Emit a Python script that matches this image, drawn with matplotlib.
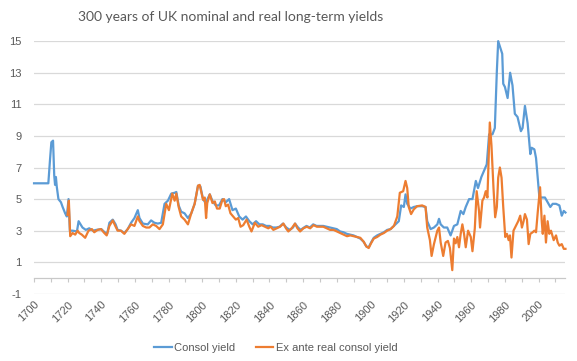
import matplotlib
matplotlib.use("Agg")
import matplotlib.pyplot as plt
from matplotlib.ticker import MultipleLocator, FixedLocator

# ---- data ----
consol_years = [1700, 1708.5, 1709.5, 1710.3, 1711.3, 1712, 1712.5, 1713, 1713.5, 1714.5,
                1716, 1717, 1718.5, 1719.5, 1720.5, 1721.3, 1723, 1725.5, 1726.5, 1728.8,
                1730.8, 1732.8, 1735, 1737, 1740, 1742, 1743.5, 1744.8, 1746.8, 1748.5,
                1749.7, 1751.7, 1753.7, 1755.7, 1757.7, 1759.7, 1761.7, 1762.7, 1764.7, 1767.6,
                1769.6, 1771.6, 1773.6, 1775.6, 1777.6, 1779.6, 1781.6, 1783.6, 1784.6, 1786,
                1787.5, 1789.5, 1791.5, 1793.5, 1795.5, 1797.5, 1798.9, 1800.5, 1802, 1804.5,
                1806, 1808, 1810, 1812, 1814, 1816, 1818, 1820, 1822, 1824,
                1826, 1828, 1830, 1832, 1834, 1836, 1838, 1840, 1842, 1844,
                1846, 1848, 1850, 1852, 1854, 1855.2, 1857, 1858.5, 1860.5, 1862,
                1864, 1866, 1868, 1872, 1874, 1876, 1878, 1880, 1882, 1884,
                1886, 1888, 1890, 1892, 1894, 1896, 1897.6, 1899, 1900.4, 1902,
                1904, 1906, 1908, 1910, 1912, 1914.9, 1916.9, 1918.3, 1919.9, 1920.9,
                1921.9, 1923.8, 1925.8, 1927.8, 1930.8, 1932.8, 1933.8, 1935.8, 1937.8, 1939.8,
                1940.8, 1941.8, 1943.7, 1945.7, 1947.7, 1949.7, 1951.7, 1953.7, 1955.3, 1956.7,
                1958.7, 1960.7, 1962.7, 1964, 1966, 1968, 1969.2, 1970.6, 1972.6, 1974,
                1975.2, 1976, 1977.2, 1978.4, 1979, 1980, 1981.6, 1983.1, 1984.5, 1985.9,
                1987.5, 1989.5, 1990.5, 1991.9, 1993.5, 1995.1, 1995.9, 1997.5, 1998.5, 2000.5,
                2003.8, 2005.4, 2007, 2008.4, 2010.4, 2012.4, 2013.8, 2015, 2016]
consol_yield = [6.0, 6.0, 7.5, 8.6, 8.7, 6.5, 5.9, 6.4, 5.8, 5.0,
                4.8, 4.5, 4.1, 3.9, 5.0, 3.0, 3.0, 2.95, 3.6, 3.2,
                3.05, 3.15, 3.0, 3.05, 3.1, 2.9, 2.8, 3.5, 3.7, 3.4,
                3.05, 3.0, 2.85, 3.1, 3.5, 3.8, 4.3, 3.8, 3.45, 3.4,
                3.65, 3.5, 3.45, 3.5, 4.7, 4.9, 5.35, 5.4, 5.45, 4.6,
                4.2, 4.1, 3.8, 4.1, 4.7, 5.85, 5.8, 5.0, 4.75, 5.3,
                4.9, 4.6, 4.6, 5.0, 4.8, 5.0, 4.3, 4.4, 3.9, 3.7,
                3.9, 3.6, 3.4, 3.6, 3.4, 3.4, 3.3, 3.3, 3.2, 3.2,
                3.25, 3.45, 3.2, 3.05, 3.2, 3.45, 3.2, 3.05, 3.2, 3.3,
                3.2, 3.4, 3.3, 3.3, 3.25, 3.2, 3.15, 3.1, 2.95, 2.9,
                2.8, 2.75, 2.7, 2.6, 2.5, 2.3, 2.0, 1.95, 2.25, 2.55,
                2.7, 2.8, 2.9, 3.05, 3.1, 3.4, 3.6, 4.6, 4.5, 5.3,
                4.7, 4.4, 4.5, 4.55, 4.55, 4.5, 3.6, 3.1, 3.2, 3.4,
                3.75, 3.4, 3.2, 3.2, 2.7, 3.3, 3.4, 4.25, 4.05, 4.5,
                5.0, 5.0, 6.15, 5.7, 6.4, 6.9, 7.2, 9.1, 9.1, 9.5,
                13.1, 15.0, 14.6, 14.2, 12.3, 12.1, 11.4, 13.0, 12.2, 10.4,
                10.2, 9.3, 9.5, 10.9, 9.8, 7.85, 8.25, 8.15, 7.6, 5.1,
                5.1, 4.8, 4.5, 4.7, 4.7, 4.6, 3.95, 4.25, 4.15]

real_years = [1719.9, 1720.7, 1721.5, 1722.9, 1724.5, 1725.9, 1726.9, 1728.4, 1730.4, 1732.4,
              1734.4, 1735.8, 1737.8, 1739.8, 1741.8, 1743.2, 1744.8, 1746.8, 1748.3, 1749.7,
              1751.7, 1753.7, 1755.7, 1757.7, 1759.7, 1761.7, 1762.7, 1764.7, 1766.7, 1768.6,
              1770.6, 1772.6, 1774.6, 1776.6, 1778.6, 1780.2, 1782.2, 1783.6, 1784.6, 1786,
              1787.5, 1789.5, 1791.5, 1793.5, 1795.5, 1797.5, 1798.5, 1800.5, 1801.5, 1802.3,
              1803, 1804.5, 1806.1, 1807.5, 1808.8, 1810.4, 1812, 1813, 1814, 1815.4,
              1816.8, 1818.4, 1820, 1821.4, 1822.8, 1824.4, 1826.4, 1828, 1829.3, 1831.3,
              1833.3, 1835.3, 1837.3, 1839.3, 1840.7, 1842.3, 1844.3, 1846.3, 1848.3, 1849.8,
              1851.2, 1853.2, 1855.2, 1856.6, 1858.2, 1860.2, 1862.2, 1864.2, 1866.2, 1868.2,
              1872, 1874.1, 1876.1, 1878.1, 1880.1, 1882.1, 1884.1, 1886.1, 1888.1, 1890,
              1892, 1894, 1896, 1897.6, 1899, 1900.4, 1902, 1904, 1906, 1908,
              1910, 1912, 1914, 1916, 1917.5, 1919.5, 1920.9, 1921.9, 1922.8, 1924.2,
              1925.8, 1927.8, 1930.8, 1932.8, 1933.8, 1935.4, 1936.4, 1937.8, 1939.8, 1940.8,
              1941.8, 1943.3, 1944.7, 1946.1, 1947.3, 1948.7, 1949.7, 1950.7, 1951.7, 1952.7,
              1953.7, 1954.7, 1955.7, 1956.7, 1958.1, 1959.7, 1960.7, 1962.1, 1963.2, 1964.6,
              1965.2, 1966.6, 1967.6, 1968.6, 1969.6, 1971, 1972, 1973.2, 1974.2, 1975.2,
              1976, 1977, 1978, 1979, 1980.2, 1981.2, 1982.2, 1983, 1983.9, 1985.1,
              1986.5, 1987.9, 1989.1, 1990.1, 1991.1, 1991.9, 1993.1, 1994.1, 1995.1, 1996.5,
              1997.5, 1998.5, 1999.5, 2000.9, 2001.9, 2002.5, 2003.5, 2004.4, 2005.4, 2006.4,
              2007.4, 2009, 2010.4, 2011.4, 2012.4, 2013.8, 2015, 2016]
real_yield = [4.0, 4.9, 2.65, 2.85, 2.75, 3.0, 2.85, 2.75, 2.55, 3.0,
              3.1, 2.9, 3.05, 3.1, 2.85, 2.7, 3.3, 3.65, 3.3, 3.0,
              3.0, 2.8, 3.1, 3.4, 3.3, 3.9, 3.6, 3.3, 3.2, 3.2,
              3.4, 3.3, 3.1, 3.4, 4.7, 4.3, 5.35, 4.9, 5.35, 4.5,
              3.9, 3.7, 3.4, 4.1, 4.7, 5.85, 5.9, 4.95, 5.1, 3.8,
              4.75, 5.3, 4.75, 4.85, 4.4, 4.4, 4.95, 5.0, 4.55, 4.65,
              4.1, 3.9, 3.7, 3.8, 3.25, 3.35, 3.7, 3.25, 2.95, 3.5,
              3.25, 3.35, 3.25, 3.15, 3.25, 3.05, 3.15, 3.25, 3.45, 3.15,
              2.95, 3.15, 3.45, 3.15, 2.95, 3.15, 3.25, 3.15, 3.35, 3.25,
              3.25, 3.15, 3.05, 3.05, 2.95, 2.85, 2.75, 2.65, 2.7, 2.65,
              2.6, 2.55, 2.3, 2.0, 1.9, 2.2, 2.5, 2.6, 2.75, 2.85,
              3.0, 3.1, 3.3, 3.9, 5.4, 5.5, 6.15, 5.7, 4.5, 4.05,
              4.35, 4.55, 4.6, 4.5, 3.2, 2.4, 1.4, 2.15, 3.0, 3.2,
              2.25, 1.4, 2.25, 2.35, 1.9, 0.5, 2.5, 2.2, 2.6, 1.95,
              2.8, 3.4, 2.8, 1.95, 3.0, 2.6, 1.7, 3.15, 5.5, 4.25,
              3.2, 4.9, 5.1, 5.5, 5.1, 9.85, 8.4, 5.7, 3.85, 4.5,
              6.35, 7.0, 6.35, 4.5, 2.6, 2.8, 2.4, 2.7, 1.3, 3.0,
              3.3, 3.6, 3.95, 3.2, 3.6, 4.05, 3.7, 2.15, 2.8, 2.9,
              3.0, 2.9, 4.15, 5.75, 3.6, 2.8, 3.95, 2.25, 3.6, 2.8,
              3.0, 2.4, 2.7, 2.25, 2.05, 2.15, 1.85, 1.85]

y_ticks = [-1, 1, 3, 5, 7, 9, 11, 13, 15]
x_label_years = list(range(1700, 2001, 20))
x_tick_years = list(range(1700, 2011, 10))

title = "300 years of UK nominal and real long-term yields"
series_names = ["Consol yield", "Ex ante real consol yield"]

# ---- figure ----
BLUE = "#5B9BD5"
ORANGE = "#ED7D31"
GRID = "#D9D9D9"
TXT = "#595959"

fig = plt.figure(figsize=(5.77, 3.61), dpi=100)
ax = fig.add_axes([0.059, 0.186, 0.921, 0.700])

ax.plot(consol_years, consol_yield, color=BLUE, lw=1.6, label=series_names[0],
        solid_joinstyle="round", clip_on=False, zorder=3)
ax.plot(real_years, real_yield, color=ORANGE, lw=1.6, label=series_names[1],
        solid_joinstyle="round", clip_on=False, zorder=4)

ax.set_xlim(1700, 2016)
ax.set_ylim(-1, 15)

# y axis
ax.set_yticks(y_ticks)
ax.set_yticklabels([str(v) for v in y_ticks], fontsize=8, color=TXT,
                   family="Liberation Sans")
ax.tick_params(axis="y", length=0, pad=9)
ax.grid(axis="y", color=GRID, lw=0.9)
ax.set_axisbelow(True)

for s in ["top", "right", "left"]:
    ax.spines[s].set_visible(False)

# category axis crossing at 0
ax.spines["bottom"].set_position(("data", 0))
ax.spines["bottom"].set_color("#C8C8C8")
ax.spines["bottom"].set_linewidth(0.9)
ax.xaxis.set_major_locator(FixedLocator(x_tick_years))
ax.tick_params(axis="x", direction="out", length=3, color="#C8C8C8",
               labelbottom=False, width=0.8)

# tick labels below the -1 line
sec = ax.secondary_xaxis(0.0)
sec.set_xticks(x_label_years)
sec.set_xticklabels([str(y) for y in x_label_years], rotation=45, ha="right",
                    va="top", rotation_mode="anchor", fontsize=8, color=TXT,
                    family="Liberation Sans")
sec.tick_params(length=0, pad=4)
sec.spines["bottom"].set_visible(False)

fig.text(0.400, 0.953, title, ha="center", va="center", fontsize=10,
         color=TXT, family="Lato")

leg = fig.legend(loc="center", bbox_to_anchor=(0.478, 0.035), ncol=2,
                 frameon=False, prop={"family": "Liberation Sans", "size": 8},
                 handlelength=1.6, handletextpad=0.2, columnspacing=1.8)
for t in leg.get_texts():
    t.set_color(TXT)

fig.savefig("out.png", dpi=100)
